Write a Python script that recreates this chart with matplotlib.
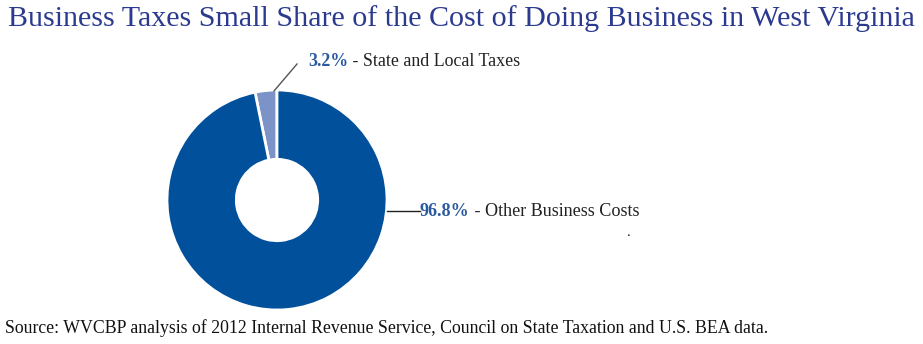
import matplotlib.pyplot as plt

# data
labels = ['State and Local Taxes', 'Other Business Costs']
shares = [3.2, 96.8]
pct_text = ['3.2%', '96.8%']
colors = ['#7b93c7', '#00509b']

plt.rcParams['font.family'] = ['Liberation Serif', 'DejaVu Serif']

W, H = 923, 344
fig = plt.figure(figsize=(W/100, H/100), dpi=100)

# pie axes placed in pixels: center (277, 200 from top), radius 110
cx, cy, r = 277, 144, 110
ax = fig.add_axes([(cx - r)/W, (cy - r)/H, 2*r/W, 2*r/H])
ax.pie(shares, colors=colors, startangle=90, counterclock=True, radius=1,
       wedgeprops=dict(width=0.63, edgecolor='white', linewidth=2))
ax.set_xlim(-1, 1)
ax.set_ylim(-1, 1)
ax.set_aspect('equal')
ax.axis('off')

blue_txt = '#2a5aa0'

# leader lines (figure pixel coords)
fig.add_artist(plt.Line2D([274/W, 297/W], [1 - 91/H, 1 - 64/H], color='#555555', lw=1))
fig.add_artist(plt.Line2D([387/W, 420/W], [1 - 211/H, 1 - 211/H], color='#222222', lw=1))

t1 = fig.text(308/W, 1 - 61/H, pct_text[0], color=blue_txt, fontsize=12.9, fontweight='bold', va='center')
fig.canvas.draw()
bb = t1.get_window_extent()
fig.text(bb.x1/W, 1 - 61/H, ' - ' + labels[0], color='#222222', fontsize=12.9, va='center')

t2 = fig.text(420/W, 1 - 211/H, pct_text[1], color=blue_txt, fontsize=13.1, fontweight='bold', va='center')
fig.canvas.draw()
bb = t2.get_window_extent()
fig.text(bb.x1/W, 1 - 211/H, ' - ' + labels[1], color='#222222', fontsize=13.1, va='center')

fig.text(629/W, 1 - 233/H, '.', color='#222222', fontsize=11, ha='center', va='center')

fig.text(461/W, 1 - 19/H, 'Business Taxes Small Share of the Cost of Doing Business in West Virginia',
         color='#2b3a8f', fontsize=21.6, ha='center', va='center')
fig.text(5/W, 1 - 328/H, 'Source: WVCBP analysis of 2012 Internal Revenue Service, Council on State Taxation and U.S. BEA data.',
         color='#111111', fontsize=12.8, ha='left', va='center')

fig.savefig('out.png', dpi=100)
